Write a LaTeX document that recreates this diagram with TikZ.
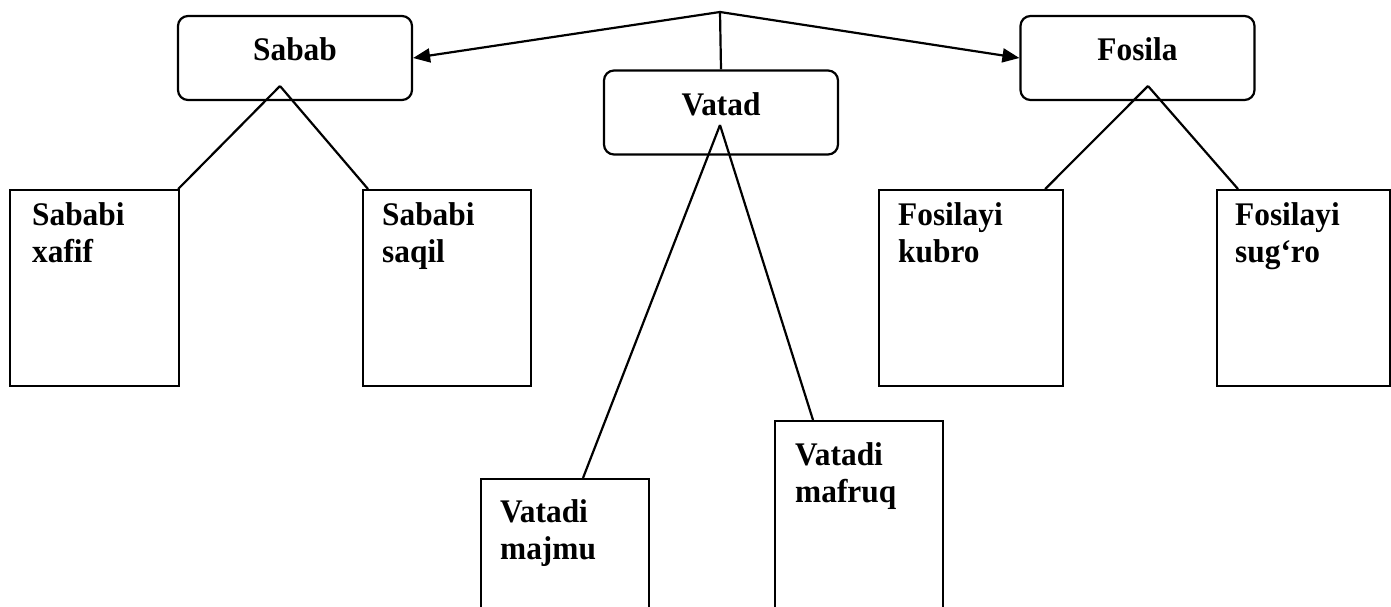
\documentclass[tikz,border=0pt]{standalone}
\usepackage{fontspec}
\setmainfont[FakeStretch=0.95]{Liberation Serif}
\usepackage{tikz}
\usetikzlibrary{arrows.meta, positioning}
\tikzset{
  head/.style={draw, rounded corners=10pt, line width=2.2pt, minimum width=234pt, minimum height=84pt, inner sep=0pt, text height=22pt, text depth=16pt},
  leaf/.style={draw, line width=2.2pt, anchor=north west, inner sep=0pt, minimum height=196pt},
  lbl/.style={align=left, anchor=north west, inner sep=0pt},
  arrow/.style={-{Triangle[length=17pt, width=14pt]}, line width=2.2pt},
  link/.style={line width=2.2pt},
  every node/.style={font=\bfseries\fontsize{33}{37}\selectfont}
}
\begin{document}
\begin{tikzpicture}[x=1pt, y=-1pt]
    \clip (0,0) rectangle (1391,607);
    % top row
    \node[head] (sabab) at (295,58) {Sabab};
    \node[head] (vatad) at (721,112.5) {Vatad};
    \node[head] (fosila) at (1137.5,58) {Fosila};
    \coordinate (top) at (720,12);
    \draw[arrow] (top) -- (sabab.east);
    \draw[arrow] (top) -- (fosila.west);
    \draw[link] (top) -- (vatad.north);
    % leaves
    \node[leaf, minimum width=169pt] (xafif) at (9,189) {};
    \node[leaf, minimum width=168pt] (saqil) at (362,189) {};
    \node[leaf, minimum width=168pt, minimum height=140pt] (majmu) at (480,478) {};
    \node[leaf, minimum width=168pt, minimum height=200pt] (mafruq) at (774,420) {};
    \node[leaf, minimum width=184pt] (kubro) at (878,189) {};
    \node[leaf, minimum width=173pt] (sugro) at (1216,189) {};
    \node[lbl] (xafifText) at ([shift={(23,13)}]xafif.north west) {Sababi\\xafif};
    \node[lbl] (saqilText) at ([shift={(20,13)}]saqil.north west) {Sababi\\saqil};
    \node[lbl] (majmuText) at ([shift={(20,21)}]majmu.north west) {Vatadi\\majmu};
    \node[lbl] (mafruqText) at ([shift={(21,22)}]mafruq.north west) {Vatadi\\mafruq};
    \node[lbl] (kubroText) at ([shift={(20,13)}]kubro.north west) {Fosilayi\\kubro};
    \node[lbl] (sugroText) at ([shift={(19,13)}]sugro.north west) {Fosilayi\\sug‘ro};
    % branches
    \coordinate (sababTip) at (280,86);
    \coordinate (vatadTip) at (720,125);
    \coordinate (fosilaTip) at (1148,86);
    \draw[link] (sababTip) -- ([xshift=-2pt]xafif.north east);
    \draw[link] (sababTip) -- ([xshift=6pt]saqil.north west);
    \draw[link] (vatadTip) -- ([xshift=103pt]majmu.north west);
    \draw[link] (vatadTip) -- ([xshift=39pt]mafruq.north west);
    \draw[link] (fosilaTip) -- ([xshift=-19pt]kubro.north east);
    \draw[link] (fosilaTip) -- ([xshift=22pt]sugro.north west);
\end{tikzpicture}
\end{document}
